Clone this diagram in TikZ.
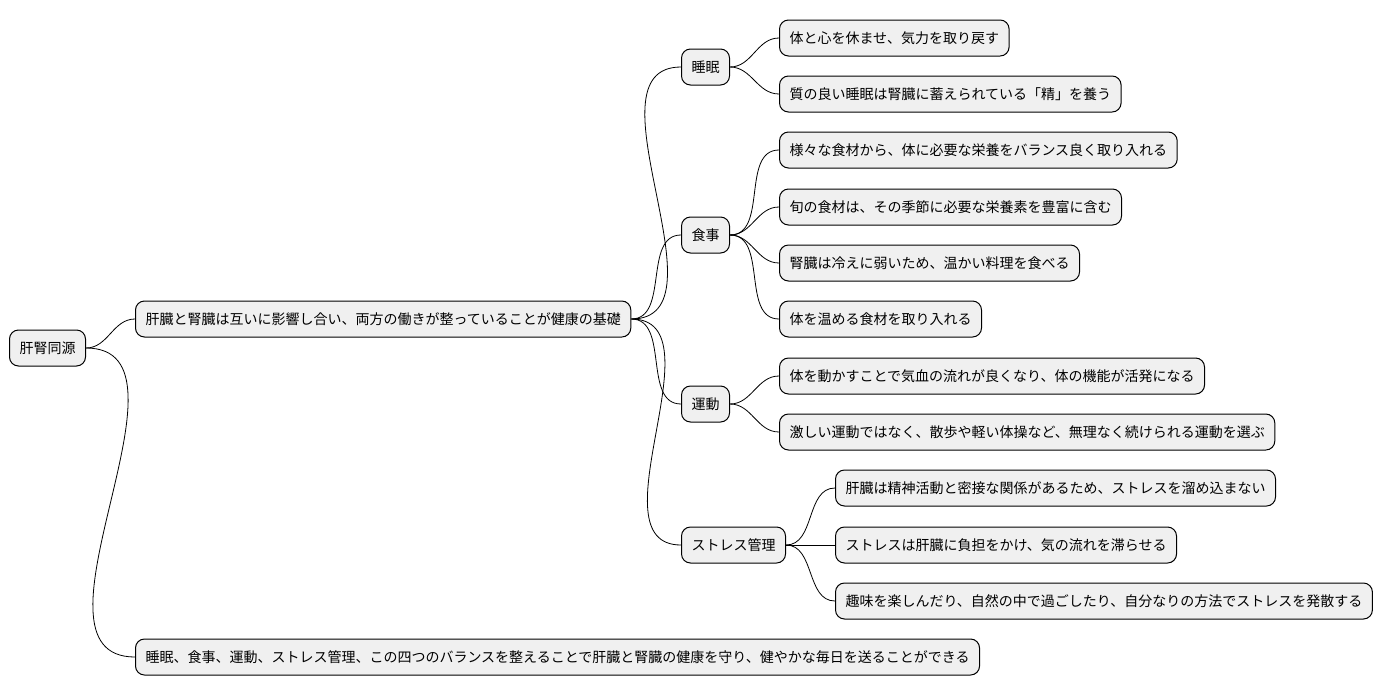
\documentclass[tikz,border=0pt]{standalone}
\usepackage{fontspec}
\setmainfont{Noto Sans CJK JP}
\begin{document}
\begin{tikzpicture}[x=0.5pt,y=-0.5pt,
    topic/.style={draw,rounded corners=4.5pt,fill=black!6,line width=0.5pt,
      anchor=west,minimum height=18pt,inner xsep=5pt,font=\fontsize{7}{8}\selectfont},
    link/.style={line width=0.4pt,out=0,in=180}]
    \useasboundingbox (0,0) rectangle (1384,696);
            \node[topic] (root) at (9,348) {肝腎同源};
            \node[topic] (base) at (135,319) {肝臓と腎臓は互いに影響し合い、両方の働きが整っていることが健康の基礎};
            \node[topic] (sum) at (135,657) {睡眠、食事、運動、ストレス管理、この四つのバランスを整えることで肝臓と腎臓の健康を守り、健やかな毎日を送ることができる};
            \node[topic] (sleep) at (681,67) {睡眠};
            \node[topic] (food) at (681,235) {食事};
            \node[topic] (move) at (681,404) {運動};
            \node[topic] (stress) at (681,545) {ストレス管理};
            \node[topic] (s1) at (779,38) {体と心を休ませ、気力を取り戻す};
            \node[topic] (s2) at (779,94) {質の良い睡眠は腎臓に蓄えられている「精」を養う};
            \node[topic] (f1) at (779,150) {様々な食材から、体に必要な栄養をバランス良く取り入れる};
            \node[topic] (f2) at (779,207) {旬の食材は、その季節に必要な栄養素を豊富に含む};
            \node[topic] (f3) at (779,263) {腎臓は冷えに弱いため、温かい料理を食べる};
            \node[topic] (f4) at (779,319) {体を温める食材を取り入れる};
            \node[topic] (m1) at (779,376) {体を動かすことで気血の流れが良くなり、体の機能が活発になる};
            \node[topic] (m2) at (779,432) {激しい運動ではなく、散歩や軽い体操など、無理なく続けられる運動を選ぶ};
            \node[topic] (t1) at (835,488) {肝臓は精神活動と密接な関係があるため、ストレスを溜め込まない};
            \node[topic] (t2) at (835,545) {ストレスは肝臓に負担をかけ、気の流れを滞らせる};
            \node[topic] (t3) at (835,601) {趣味を楽しんだり、自然の中で過ごしたり、自分なりの方法でストレスを発散する};
            \draw (root.east) to[link] (base.west);
            \draw (root.east) to[link] (sum.west);
            \foreach \c in {sleep,food,move,stress}
                \draw (base.east) to[link] (\c.west);
            \foreach \c in {s1,s2}
                \draw (sleep.east) to[link] (\c.west);
            \foreach \c in {f1,f2,f3,f4}
                \draw (food.east) to[link] (\c.west);
            \foreach \c in {m1,m2}
                \draw (move.east) to[link] (\c.west);
            \foreach \c in {t1,t2,t3}
                \draw (stress.east) to[link] (\c.west);
\end{tikzpicture}
\end{document}
